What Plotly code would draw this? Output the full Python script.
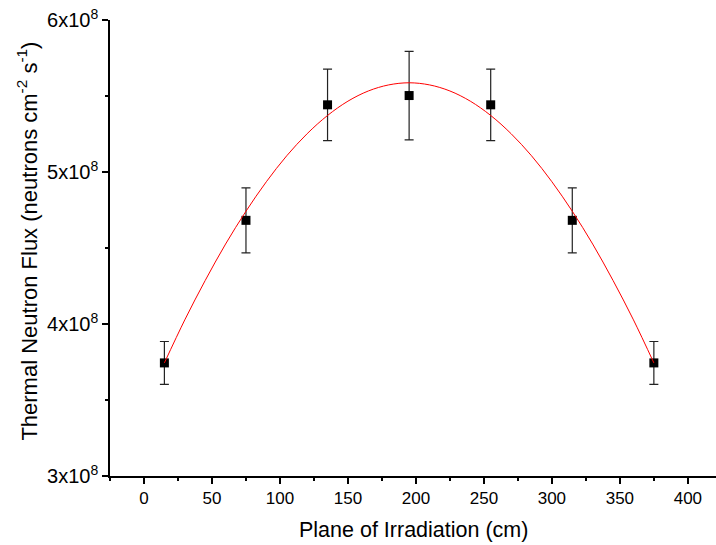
import plotly.graph_objects as go

# Measured data (plane position in cm, thermal neutron flux)
plane_cm = [15, 75, 135, 195, 255, 315, 375]
flux = [3.744e8, 4.682e8, 5.442e8, 5.503e8, 5.442e8, 4.682e8, 3.744e8]
flux_err = [1.41e7, 2.14e7, 2.35e7, 2.91e7, 2.35e7, 2.14e7, 1.41e7]

# Fitted curve
fit_x = [15, 30, 45, 60, 75, 90, 105, 120, 135, 150, 165, 180, 195,
         210, 225, 240, 255, 270, 285, 300, 315, 330, 345, 360, 375]
fit_y = [3.744e8, 4.027e8, 4.286e8, 4.526e8, 4.742e8, 4.936e8, 5.107e8, 5.252e8,
         5.372e8, 5.466e8, 5.533e8, 5.573e8, 5.587e8, 5.573e8, 5.533e8, 5.466e8,
         5.372e8, 5.252e8, 5.107e8, 4.936e8, 4.742e8, 4.526e8, 4.286e8, 4.027e8, 3.744e8]

y_tickvals = [3e8, 4e8, 5e8, 6e8]
y_ticktext = ["3x10<sup>8</sup>", "4x10<sup>8</sup>", "5x10<sup>8</sup>", "6x10<sup>8</sup>"]
y_minor = [3.5e8, 4.5e8, 5.5e8]

FONT = "Liberation Sans, Arial, sans-serif"

fig = go.Figure()
fig.add_trace(go.Scatter(
    x=plane_cm, y=flux, mode="markers",
    marker=dict(symbol="square", size=9, color="black", line=dict(width=0)),
    error_y=dict(type="data", array=flux_err, visible=True,
                 color="#222222", thickness=1.2, width=4.5),
    showlegend=False,
))
fig.add_trace(go.Scatter(
    x=fit_x, y=fit_y, mode="lines", line=dict(color="red", width=1, shape="spline"),
    showlegend=False,
))

fig.update_layout(
    width=716, height=545,
    margin=dict(l=110, r=0, t=19.5, b=69, autoexpand=False),
    paper_bgcolor="white", plot_bgcolor="white",
    font=dict(family=FONT, size=17, color="black"),
    xaxis=dict(
        range=[-25, 420.7], tickmode="linear", tick0=0, dtick=50,
        showgrid=False, zeroline=False,
        showline=True, linecolor="black", linewidth=1.5,
        ticks="outside", ticklen=6, tickwidth=1.5, tickcolor="black",
        minor=dict(ticks="outside", ticklen=3, tickwidth=1.5, tickcolor="black",
                   tick0=-25, dtick=50, showgrid=False),
        tickfont=dict(size=17),
    ),
    yaxis=dict(
        range=[3e8, 6e8], tickmode="array", tickvals=y_tickvals, ticktext=y_ticktext,
        showgrid=False, zeroline=False, ticklabeloverflow="allow",
        showline=True, linecolor="black", linewidth=1.5,
        ticks="outside", ticklen=6, tickwidth=1.5, tickcolor="black",
        minor=dict(ticks="outside", ticklen=3, tickwidth=1.5, tickcolor="black",
                   tickvals=y_minor, showgrid=False),
        tickfont=dict(size=20),
    ),
    annotations=[
        dict(text="Plane of Irradiation (cm)", xref="paper", yref="paper",
             x=0.5, y=0, yshift=-54, xanchor="center", yanchor="middle",
             showarrow=False, font=dict(size=21.5)),
        dict(text="Thermal Neutron Flux (neutrons cm<sup>-2</sup> s<sup>-1</sup>)",
             xref="paper", yref="paper", x=0, xshift=-83, y=0.514,
             xanchor="center", yanchor="middle", textangle=-90,
             showarrow=False, font=dict(size=22)),
    ],
)

# remove the default page margin so the figure fills the 716x545 window exactly
fig.write_html("out.html",
               config={"displayModeBar": False},
               post_script="document.body.style.margin='0';document.body.style.padding='0';")
